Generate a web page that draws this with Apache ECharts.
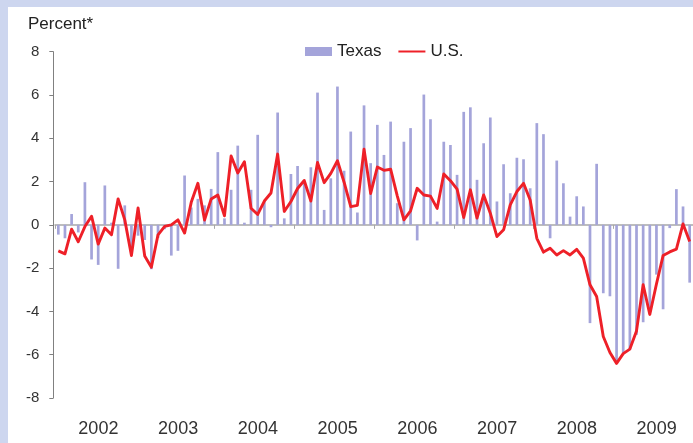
<!DOCTYPE html>
<html><head><meta charset="utf-8">
<script src="https://cdn.jsdelivr.net/npm/echarts@6/dist/echarts.min.js"></script>
<style>
html,body{margin:0;padding:0;background:#cdd6ef;width:693px;height:443px;overflow:hidden}
#panel{position:absolute;left:8px;top:7px;width:685px;height:436px;background:#fff}
#chart{position:absolute;left:0;top:0;width:693px;height:443px}
</style></head><body>
<div id="panel"></div><div id="chart"></div>
<script>
const years = ['2002','2003','2004','2005','2006','2007','2008','2009'];
const months = [];
years.forEach(function (y) { for (let m = 1; m <= 12; m++) months.push(y + '-' + m); });

const texas = [
  -0.45, -0.62, 0.5, -0.35, 1.97, -1.6, -1.85, 1.82, 0.1, -2.03, 0.9, -1.0,
  -0.5, -0.7, -2.05, -0.6, -0.2, -1.42, -1.2, 2.28, 0.8, 1.2, 0.9, 1.66,
  3.36, 0.3, 1.62, 3.66, 0.1, 1.62, 4.16, 1.1, -0.11, 5.19, 0.3, 2.35,
  2.72, 2.0, 2.66, 6.11, 0.69, 2.15, 6.39, 2.5, 4.31, 0.57, 5.52, 2.85,
  4.62, 3.23, 4.77, 1.0, 3.84, 4.47, -0.72, 6.02, 4.88, 0.15, 3.84, 3.69,
  2.31, 5.22, 5.43, 2.08, 3.77, 4.96, 1.08, 2.8, 1.46, 3.1, 3.03, 1.69,
  4.7, 4.19, -0.62, 2.97, 1.92, 0.38, 1.32, 0.85, -4.54, 2.82, -3.16, -3.3,
  -6.3, -5.95, -5.75, -5.08, -4.5, -4.0, -2.3, -3.9, -0.15, 1.65, 0.85, -2.67
];
const us = [
  -1.2, -1.34, -0.2, -0.78, -0.08, 0.4, -0.89, -0.15, -0.46, 1.2, 0.23, -1.42,
  0.78, -1.44, -1.96, -0.46, -0.07, 0.0, 0.23, -0.38, 1.04, 1.92, 0.22, 1.2,
  1.38, 0.42, 3.18, 2.4, 2.92, 0.77, 0.48, 1.1, 1.47, 3.27, 0.62, 1.08,
  1.68, 2.05, 1.1, 2.88, 1.95, 2.38, 2.96, 1.97, 0.84, 0.9, 3.5, 1.45,
  2.67, 2.52, 2.57, 1.34, 0.23, 0.65, 1.69, 1.38, 1.33, 0.76, 2.35, 2.04,
  1.65, 0.34, 1.62, 0.31, 1.38, 0.54, -0.54, -0.23, 0.92, 1.54, 1.92, 1.15,
  -0.62, -1.26, -1.08, -1.39, -1.19, -1.39, -1.13, -1.54, -2.77, -3.31, -5.16, -5.9,
  -6.4, -5.95, -5.74, -4.9, -2.77, -4.14, -2.73, -1.42, -1.25, -1.12, 0.04, -0.77
];
const yMin = -8, yMax = 8, yStep = 2;

const FONT = 'Liberation Sans, Arial, sans-serif';
const chart = echarts.init(document.getElementById('chart'), null, {renderer: 'canvas'});
chart.setOption({
  backgroundColor: 'transparent',
  animation: false,
  title: {
    text: 'Percent*', left: 23, top: 11,
    textStyle: {fontFamily: FONT, fontSize: 17, fontWeight: 'normal', color: '#222'}
  },
  legend: {
    left: 300, top: 38, itemWidth: 27, itemHeight: 9, itemGap: 16,
    textStyle: {fontFamily: FONT, fontSize: 17, color: '#222'},
    data: [
      {name: 'Texas', icon: 'rect'},
      {name: 'U.S.', itemStyle: {opacity: 0, borderWidth: 0}}
    ]
  },
  grid: {left: 55, top: 51.7, width: 639, height: 346.3},
  xAxis: [
    {type: 'category', data: months, show: false, boundaryGap: true, axisLine: {onZero: false}},
    {type: 'category', data: years, position: 'bottom', boundaryGap: true,
     axisLine: {show: true, onZero: true, onZeroAxisIndex: 0, lineStyle: {color: '#a8a8a8', width: 1.5}},
     axisTick: {show: true, length: 4, interval: 0, lineStyle: {color: '#a8a8a8', width: 1}},
     axisLabel: {show: false}, splitLine: {show: false}},
    {type: 'category', data: years, position: 'bottom', boundaryGap: true,
     axisLine: {show: false, onZero: false}, axisTick: {show: false},
     axisLabel: {show: true, interval: 0, margin: 22, padding: [0, 0, 0, 7],
       fontFamily: FONT, fontSize: 18, color: '#333'},
     splitLine: {show: false}}
  ],
  yAxis: {
    type: 'value', min: yMin, max: yMax, interval: yStep, offset: 1.7,
    axisLine: {show: true, lineStyle: {color: '#808080', width: 1}},
    axisTick: {show: true, length: 4, lineStyle: {color: '#808080'}},
    axisLabel: {margin: 14, fontFamily: FONT, fontSize: 15, color: '#333'},
    splitLine: {show: false}
  },
  series: [
    {name: 'Texas', type: 'bar', xAxisIndex: 0, data: texas, barWidth: 2.7,
     itemStyle: {color: '#a4a4da'}, z: 2},
    {name: 'U.S.', type: 'line', xAxisIndex: 0, data: us, symbol: 'none',
     lineStyle: {color: '#ee2028', width: 2.9, join: 'round'}, itemStyle: {color: '#ee2028'}, z: 3}
  ]
});
</script>
</body></html>
